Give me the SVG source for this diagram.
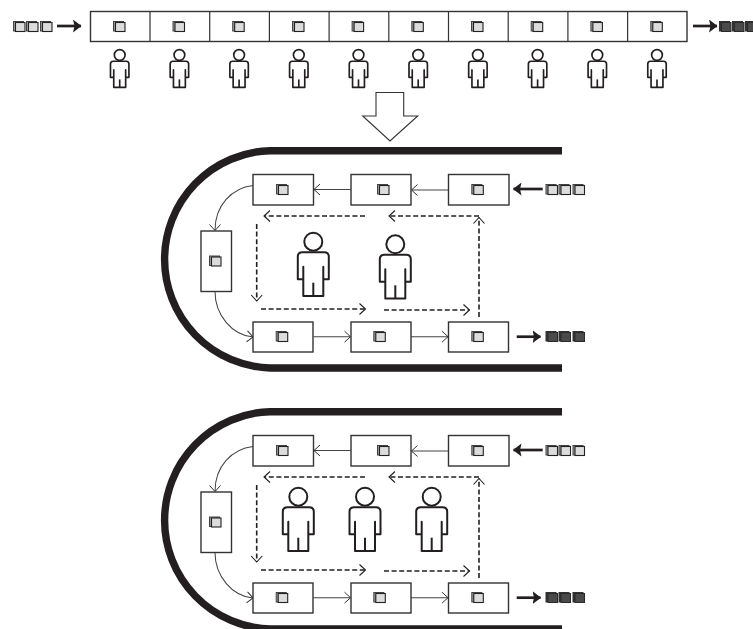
<svg xmlns="http://www.w3.org/2000/svg" width="753" height="629" viewBox="0 0 753 629">
<style>
.box{fill:#fff;stroke:#333;stroke-width:1.4}
.wall{fill:none;stroke:#231f20;stroke-width:7.4}
.thin{fill:none;stroke:#444;stroke-width:1.05;marker-end:url(#open)}
.dash{fill:none;stroke:#231f20;stroke-width:1.6;stroke-dasharray:5 2.6;marker-end:url(#opend)}
.thick{fill:none;stroke:#231f20;stroke-width:2.7;marker-end:url(#solid)}
.p{fill:#fff;stroke:#231f20;stroke-linejoin:round}
</style>
<defs>
<marker id="open" markerUnits="userSpaceOnUse" markerWidth="10" markerHeight="14" refX="8" refY="7" orient="auto"><path d="M2 1.5L8 7L2 12.5" fill="none" stroke="#333" stroke-width="1"/></marker>
<marker id="opend" markerUnits="userSpaceOnUse" markerWidth="10" markerHeight="14" refX="8" refY="7" orient="auto"><path d="M2 1.5L8 7L2 12.5" fill="none" stroke="#231f20" stroke-width="1.1"/></marker>
<marker id="solid" markerUnits="userSpaceOnUse" markerWidth="10" markerHeight="14" refX="8" refY="6.5" orient="auto"><path d="M0 0L8.5 6.5L0 13L1.5 6.5Z" fill="#231f20"/></marker>
<g id="c"><rect x="0.5" y="0.5" width="10" height="9.5" fill="#999" stroke="#444" stroke-width="1"/><rect x="2.5" y="1.5" width="9.5" height="9" fill="#dcdcdc" stroke="#222" stroke-width="1.1"/></g>
<g id="d"><rect x="0.5" y="0.5" width="10" height="9.5" fill="#333" stroke="#333" stroke-width="1"/><rect x="2.5" y="1.5" width="9.5" height="9" fill="#4a4a4a" stroke="#2a2a2a" stroke-width="1"/></g>
<g id="person"><circle cx="0" cy="0" r="9"/><path d="M-11 10.5H11Q15.5 10.5 15.5 15V37.5H10V25V54.3H-10V25V37.5H-15.5V15Q-15.5 10.5-11 10.5Z"/><path d="M0 41V54.3" fill="none"/></g>
<g id="panel-links">
<path class="wall" d="M562 150.7H270A108.7 108.7 0 0 0 270 368H562"/>
<path class="thin" d="M448 190H411.5"/><path class="thin" d="M350.7 189.5H314"/>
<path class="thin" d="M253 185.5C232 188 215 205 215 230.5"/>
<path class="thin" d="M215 291.5C215 315 232 335 253 337"/>
<path class="thin" d="M313.5 336.7H350.5"/><path class="thin" d="M411 336.7H448"/>
<path class="dash" d="M365 216H264"/>
<path class="dash" d="M479 216H389"/>
<path class="dash" d="M479 317V217.5"/>
<path class="dash" d="M256.7 224V301"/>
<path class="dash" d="M261 309H365.5"/>
<path class="dash" d="M384 310H469.5"/>
<path class="thick" d="M542.7 189H513.5"/>
<path class="thick" d="M516.7 336.7H540.5"/>
</g>
<g id="panel-cells">
<rect class="box" x="253" y="174.5" width="60.5" height="30.5"/><rect class="box" x="351" y="174.5" width="60" height="30.5"/><rect class="box" x="448.5" y="174.5" width="60.5" height="30.5"/>
<rect class="box" x="201" y="231" width="30.5" height="60.5"/>
<rect class="box" x="253" y="322" width="60" height="30"/><rect class="box" x="351" y="322" width="60" height="30"/><rect class="box" x="448.5" y="322" width="60" height="30"/>
<use href="#c" x="276" y="184"/><use href="#c" x="377" y="184"/><use href="#c" x="471.3" y="184"/><use href="#c" x="209" y="255.5"/><use href="#c" x="275.7" y="331"/><use href="#c" x="373.3" y="331"/><use href="#c" x="471.3" y="331"/>
<use href="#c" x="545.5" y="184"/><use href="#c" x="558.5" y="184"/><use href="#c" x="572.5" y="184"/>
<use href="#d" x="545.5" y="331"/><use href="#d" x="558.5" y="331"/><use href="#d" x="572.5" y="331"/>
</g>
</defs>
<g id="connectors">
<path class="thick" d="M57 26H81"/>
<path class="thick" d="M693 26H717"/>
<path d="M376 92.5H403.7V116H417.7L390 141L362.7 116H376Z" fill="#fff" stroke="#333" stroke-width="1.1"/>
<use id="conn-a" href="#panel-links"/>
<use id="conn-b" href="#panel-links" y="261"/>
</g>
<g id="line">
<rect class="box" x="90.5" y="11.5" width="596.5" height="30"/>
<path d="M150 11.5V41.5M209.7 11.5V41.5M269.4 11.5V41.5M329.1 11.5V41.5M388.8 11.5V41.5M448.5 11.5V41.5M508.2 11.5V41.5M567.9 11.5V41.5M627.6 11.5V41.5" stroke="#333" stroke-width="1.2" fill="none"/>
<use href="#c" x="113" y="21"/><use href="#c" x="172.5" y="21"/><use href="#c" x="232.2" y="21"/><use href="#c" x="292" y="21"/><use href="#c" x="351.6" y="21"/><use href="#c" x="411.3" y="21"/><use href="#c" x="471" y="21"/><use href="#c" x="530.7" y="21"/><use href="#c" x="590.4" y="21"/><use href="#c" x="650.3" y="21"/>
</g>
<g id="line-in"><use href="#c" x="13" y="21"/><use href="#c" x="26" y="21"/><use href="#c" x="40" y="21"/></g>
<g id="line-out"><use href="#d" x="719" y="21"/><use href="#d" x="732" y="21"/><use href="#d" x="745" y="21"/></g>
<g id="line-workers" class="p" stroke-width="2.8"><use href="#person" transform="translate(119.7 55) scale(.595)"/><use href="#person" transform="translate(179.4 55) scale(.595)"/><use href="#person" transform="translate(239.1 55) scale(.595)"/><use href="#person" transform="translate(298.8 55) scale(.595)"/><use href="#person" transform="translate(358.5 55) scale(.595)"/><use href="#person" transform="translate(418.2 55) scale(.595)"/><use href="#person" transform="translate(477.9 55) scale(.595)"/><use href="#person" transform="translate(537.6 55) scale(.595)"/><use href="#person" transform="translate(597.3 55) scale(.595)"/><use href="#person" transform="translate(657 55) scale(.595)"/></g>
<use id="cell-a" href="#panel-cells"/>
<use id="cell-b" href="#panel-cells" y="261"/>
<g id="workers-a" class="p" stroke-width="2"><use href="#person" x="313.3" y="241.7"/><use href="#person" x="395.3" y="244.3"/></g>
<g id="workers-b" class="p" stroke-width="2"><use href="#person" x="298.3" y="496.7"/><use href="#person" x="365" y="496.7"/><use href="#person" x="431.7" y="496.7"/></g>
</svg>
